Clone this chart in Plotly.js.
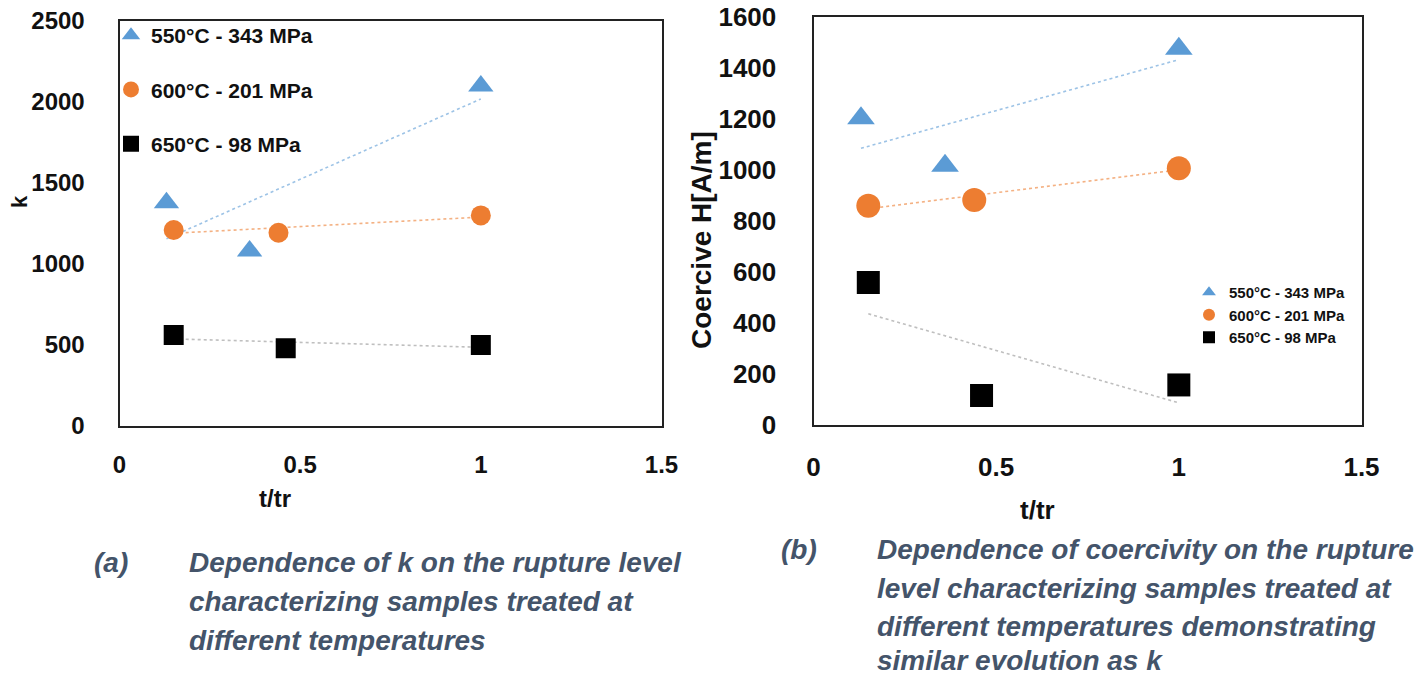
<!DOCTYPE html>
<html>
<head>
<meta charset="utf-8">
<script src="https://cdn.plot.ly/plotly-3.0.1.min.js"></script>
<style>
  html, body { margin: 0; padding: 0; background: #fff; }
  #fig { width: 1421px; height: 678px; }
</style>
</head>
<body>
<div id="fig"></div>
<script>
// Series labels (creep conditions)
const seriesNames = ["550°C - 343 MPa", "600°C - 201 MPa", "650°C - 98 MPa"];

// (a) parameter k versus life fraction t/tr
const tRatioK550 = [0.13, 0.36, 1.0];
const kVals550   = [1378, 1081, 2099];
const tRatioK600 = [0.15, 0.44, 1.0];
const kVals600   = [1210, 1193, 1300];
const tRatioK650 = [0.15, 0.46, 1.0];
const kVals650   = [562, 480, 500];

// (b) coercive field H [A/m] versus life fraction t/tr
const tRatioH550 = [0.13, 0.36, 1.0];
const hcVals550  = [1202, 1016, 1474];
const tRatioH600 = [0.15, 0.44, 1.0];
const hcVals600  = [859, 882, 1006];
const tRatioH650 = [0.15, 0.46, 1.0];
const hcVals650  = [558, 116, 157];

// Axis ticks
const xTicks = [0, 0.5, 1, 1.5];
const xTickText = ["0", "0.5", "1", "1.5"];
const kTicks = [0, 500, 1000, 1500, 2000, 2500];
const hcTicks = [0, 200, 400, 600, 800, 1000, 1200, 1400, 1600];

const W = 1421, H = 678;
const px = v => v / W;
const py = v => 1 - v / H;

const colors = ["#5B9BD5", "#ED7D31", "#000000"];
const trendColors = ["#9DC3E6", "#F4B183", "#BFBFBF"];
const symbols = ["triangle-up", "circle", "square"];
const FONT = "Liberation Sans, Arial, sans-serif";

// Least-squares linear trend over the span of a series
function linearTrend(xs, ys) {
  const n = xs.length;
  const mx = xs.reduce((a, b) => a + b, 0) / n;
  const my = ys.reduce((a, b) => a + b, 0) / n;
  let sxy = 0, sxx = 0;
  for (let i = 0; i < n; i++) {
    sxy += (xs[i] - mx) * (ys[i] - my);
    sxx += (xs[i] - mx) * (xs[i] - mx);
  }
  const slope = sxy / sxx;
  const x0 = Math.min(...xs), x1 = Math.max(...xs);
  return { x: [x0, x1], y: [my + slope * (x0 - mx), my + slope * (x1 - mx)] };
}

const panelA = [[tRatioK550, kVals550], [tRatioK600, kVals600], [tRatioK650, kVals650]];
const panelB = [[tRatioH550, hcVals550], [tRatioH600, hcVals600], [tRatioH650, hcVals650]];

const traces = [];
function addPanel(data, xa, ya, legendId, sizes, groupPrefix) {
  data.forEach(([xs, ys], i) => {
    const tr = linearTrend(xs, ys);
    traces.push({
      x: tr.x, y: tr.y, xaxis: xa, yaxis: ya, mode: "lines",
      line: { color: trendColors[i], width: 1.6, dash: "dot" },
      showlegend: false, hoverinfo: "skip"
    });
  });
  data.forEach(([xs, ys], i) => {
    traces.push({
      x: xs, y: ys, xaxis: xa, yaxis: ya, mode: "markers",
      name: seriesNames[i], legend: legendId, legendgroup: groupPrefix + i,
      marker: { symbol: symbols[i], color: colors[i], size: sizes[i], line: { width: 0 } }
    });
  });
}
addPanel(panelA, "x", "y", "legend", [22, 20, 20], "a");
addPanel(panelB, "x2", "y2", "legend2", [24, 24, 23], "b");

function frameAxis(extra) {
  return Object.assign({
    showline: true, mirror: true, linecolor: "#222", linewidth: 2,
    showgrid: false, zeroline: false, ticks: "",
    tickfont: { family: FONT, size: 24, color: "#111", weight: "bold" }
  }, extra);
}

const capFont = { family: FONT, size: 28, color: "#44546A", weight: "bold", style: "italic" };
function caption(text, x, y) {
  return { text: text, xref: "paper", yref: "paper", x: px(x), y: py(y),
           xanchor: "left", yanchor: "middle", showarrow: false, font: capFont };
}
function label(text, x, y, size, angle) {
  return { text: text, xref: "paper", yref: "paper", x: px(x), y: py(y),
           xanchor: "center", yanchor: "middle", showarrow: false, textangle: angle || 0,
           font: { family: FONT, size: size, color: "#111", weight: "bold" } };
}

const layout = {
  width: W, height: H,
  margin: { l: 0, r: 0, t: 0, b: 0, pad: 0 },
  paper_bgcolor: "#fff", plot_bgcolor: "#fff",
  xaxis: frameAxis({ domain: [px(119.5), px(661.5)], range: [0, 1.5], anchor: "y",
    tickvals: xTicks, ticktext: xTickText, ticklabelstandoff: 16 }),
  yaxis: frameAxis({ domain: [py(426), py(21)], range: [0, 2500], anchor: "x",
    tickvals: kTicks, ticklabelstandoff: 28 }),
  xaxis2: frameAxis({ domain: [px(813.5), px(1361.5)], range: [0, 1.5], anchor: "y2",
    tickvals: xTicks, ticktext: xTickText, ticklabelstandoff: 18,
    tickfont: { family: FONT, size: 26, color: "#111", weight: "bold" } }),
  yaxis2: frameAxis({ domain: [py(425), py(16.7)], range: [0, 1600], anchor: "x2",
    tickvals: hcTicks, ticklabelstandoff: 30,
    tickfont: { family: FONT, size: 26, color: "#111", weight: "bold" } }),
  legend: {
    x: px(111), y: py(15), xanchor: "left", yanchor: "top",
    bgcolor: "rgba(0,0,0,0)", borderwidth: 0,
    font: { family: FONT, size: 21, color: "#111", weight: "bold" },
    traceorder: "grouped", tracegroupgap: 24, itemsizing: "trace"
  },
  legend2: {
    x: px(1189), y: py(276), xanchor: "left", yanchor: "top",
    bgcolor: "rgba(0,0,0,0)", borderwidth: 0,
    font: { family: FONT, size: 15, color: "#111", weight: "bold" },
    traceorder: "normal", itemsizing: "constant"
  },
  annotations: [
    label("k", 19, 202, 22, -90),
    label("t/tr", 275, 498, 24),
    label("Coercive H[A/m]", 701, 240, 28, -90),
    label("t/tr", 1037, 510, 26),
    caption("(a)", 92, 562),
    caption("Dependence of k on the rupture level", 187, 562),
    caption("characterizing samples treated at", 187, 601),
    caption("different temperatures", 187, 640),
    caption("(b)", 779, 549),
    caption("Dependence of coercivity on the rupture", 875, 549),
    caption("level characterizing samples treated at", 875, 588),
    caption("different temperatures demonstrating", 875, 626),
    caption("similar evolution as k", 875, 660)
  ]
};

Plotly.newPlot("fig", traces, layout, { displayModeBar: false, staticPlot: true });
</script>
</body>
</html>
